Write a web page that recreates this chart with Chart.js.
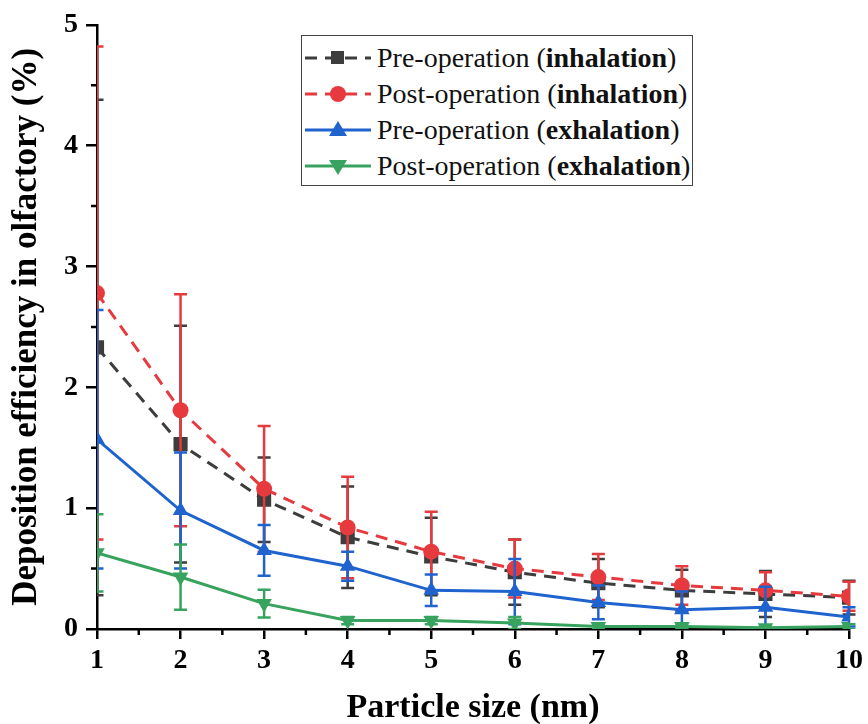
<!DOCTYPE html>
<html lang="en">
<head>
<meta charset="UTF-8" />
<title>Olfactory deposition</title>
<script src="https://cdn.jsdelivr.net/npm/chart.js"></script>
<style>
  body { margin: 0; background: #fff; }
  #wrap { position: relative; width: 868px; height: 724px; }
  #legend {
    position: absolute; left: 301px; top: 35px; width: 392px; height: 151px;
    border: 1px solid #444; background: #fff; box-sizing: border-box;
    font-family: 'Liberation Serif', 'Times New Roman', serif; font-size: 28px; color: #111;
    padding-top: 4px;
  }
  .row { display: flex; align-items: center; height: 36px; white-space: nowrap; }
  .row svg { margin-left: 3px; margin-right: 6px; }
</style>
</head>
<body>
<div id="wrap">
  <canvas id="chart" width="868" height="724"></canvas>
  <div id="legend"></div>
</div>
<script>
  const sizes = [1, 2, 3, 4, 5, 6, 7, 8, 9, 10];
  const yTicks = [0, 1, 2, 3, 4, 5];

  const preInh = [2.33, 1.53, 1.07, 0.76, 0.60, 0.47, 0.38, 0.32, 0.29, 0.26];
  const preInhErr = [2.05, 0.98, 0.35, 0.42, 0.32, 0.27, 0.20, 0.17, 0.19, 0.14];
  const postInh = [2.78, 1.81, 1.16, 0.84, 0.64, 0.50, 0.43, 0.36, 0.32, 0.27];
  const postInhErr = [2.04, 0.96, 0.52, 0.42, 0.33, 0.24, 0.19, 0.16, 0.15, 0.12];
  const preExh = [1.57, 0.98, 0.65, 0.52, 0.32, 0.31, 0.22, 0.16, 0.18, 0.10];
  const preExhErr = [1.07, 0.48, 0.21, 0.12, 0.13, 0.27, 0.14, 0.15, 0.17, 0.08];
  const postExh = [0.63, 0.43, 0.21, 0.07, 0.07, 0.05, 0.02, 0.02, 0.01, 0.02];
  const postExhErr = [0.32, 0.27, 0.115, 0.03, 0.03, 0.05, 0.02, 0.02, 0.02, 0.02];

  const GRAY = '#3d3d3d', RED = '#e63a3e', BLUE = '#1f63cf', GREEN = '#38a35e';
  const FONT = "'Liberation Serif', 'Times New Roman', serif";

  function pts(vals) { return sizes.map((x, i) => ({ x: x, y: vals[i] })); }

  const series = [
    { label: 'Pre-operation', mode: 'inhalation', vals: preInh, err: preInhErr, color: GRAY, style: 'rect', r: 10, rot: 0, dash: [12, 8], order: 4 },
    { label: 'Post-operation', mode: 'inhalation', vals: postInh, err: postInhErr, color: RED, style: 'circle', r: 8, rot: 0, dash: [12, 8], order: 3 },
    { label: 'Pre-operation', mode: 'exhalation', vals: preExh, err: preExhErr, color: BLUE, style: 'triangle', r: 9, rot: 0, dash: [], order: 2 },
    { label: 'Post-operation', mode: 'exhalation', vals: postExh, err: postExhErr, color: GREEN, style: 'triangle', r: 9, rot: 180, dash: [], order: 1 }
  ];

  // error bars, drawn just before each dataset's own line and markers
  const errorBars = {
    id: 'errorBars',
    beforeDatasetDraw(chart, args) {
      const ds = chart.data.datasets[args.index];
      if (!ds.errors) return;
      const { ctx, chartArea: a } = chart;
      const xs = chart.scales.x, ys = chart.scales.y;
      ctx.save();
      ctx.beginPath();
      ctx.rect(a.left, a.top - 10, a.right - a.left + 10, a.bottom - a.top + 10);
      ctx.clip();
      ctx.strokeStyle = ds.borderColor;
      ctx.lineWidth = 2.5;
      ds.data.forEach((p, i) => {
        const e = ds.errors[i];
        const px = xs.getPixelForValue(p.x);
        const top = ys.getPixelForValue(p.y + e);
        const bot = ys.getPixelForValue(p.y - e);
        ctx.beginPath();
        ctx.moveTo(px, top); ctx.lineTo(px, bot);
        ctx.moveTo(px - 6.5, top); ctx.lineTo(px + 6.5, top);
        ctx.moveTo(px - 6.5, bot); ctx.lineTo(px + 6.5, bot);
        ctx.stroke();
      });
      ctx.restore();
    }
  };

  // minor ticks at the half units
  const minorTicks = {
    id: 'minorTicks',
    afterDraw(chart) {
      const { ctx, chartArea: a } = chart;
      const xs = chart.scales.x, ys = chart.scales.y;
      ctx.save();
      ctx.strokeStyle = '#000';
      ctx.lineWidth = 2.5;
      ctx.beginPath();
      for (let v = 1.5; v < 10; v += 1) {
        const px = xs.getPixelForValue(v);
        ctx.moveTo(px, a.bottom); ctx.lineTo(px, a.bottom + 6);
      }
      for (let v = 0.5; v < 5; v += 1) {
        const py = ys.getPixelForValue(v);
        ctx.moveTo(a.left, py); ctx.lineTo(a.left - 6, py);
      }
      ctx.stroke();
      ctx.restore();
    }
  };

  const ctx = document.getElementById('chart').getContext('2d');
  new Chart(ctx, {
    type: 'line',
    data: {
      datasets: series.map(s => ({
        label: s.label + ' (' + s.mode + ')',
        data: pts(s.vals),
        errors: s.err,
        borderColor: s.color,
        backgroundColor: s.color,
        pointBackgroundColor: s.color,
        pointBorderColor: s.color,
        borderWidth: 3,
        borderDash: s.dash,
        pointStyle: s.style,
        pointRadius: s.r,
        pointRotation: s.rot,
        pointBorderWidth: 0,
        tension: 0,
        order: s.order
      }))
    },
    options: {
      responsive: false,
      animation: false,
      layout: { padding: { top: 20, right: 16, left: 0, bottom: 0 } },
      plugins: { legend: { display: false }, tooltip: { enabled: false } },
      scales: {
        x: {
          type: 'linear', min: 1, max: 10,
          afterBuildTicks: s => { s.ticks = sizes.map(v => ({ value: v })); },
          afterFit: s => { s.height = 95; },
          grid: { drawOnChartArea: false, color: '#000', tickLength: 10, lineWidth: 2.5 },
          border: { color: '#000', width: 2.5 },
          ticks: { color: '#000', padding: 5, font: { family: FONT, size: 28, weight: 'bold' } },
          title: { display: true, text: 'Particle size (nm)', color: '#000', padding: { top: 4, bottom: -5 },
                   font: { family: FONT, size: 34, weight: 'bold' } }
        },
        y: {
          type: 'linear', min: 0, max: 5,
          afterBuildTicks: s => { s.ticks = yTicks.map(v => ({ value: v })); },
          afterFit: s => { s.width = 97; },
          grid: { drawOnChartArea: false, color: '#000', tickLength: 11, lineWidth: 2.5 },
          border: { color: '#000', width: 2.5 },
          ticks: { color: '#000', padding: 8, font: { family: FONT, size: 28, weight: 'bold' } },
          title: { display: true, text: 'Deposition efficiency in olfactory (%)', color: '#000', padding: { top: 6 },
                   font: { family: FONT, size: 35, weight: 'bold' } }
        }
      }
    },
    plugins: [errorBars, minorTicks]
  });

  // legend with mixed regular / bold text
  function sample(s) {
    const dash = s.dash.length ? 'stroke-dasharray="12 8"' : '';
    let mark = '';
    if (s.style === 'rect') mark = '<rect x="26" y="8" width="13" height="13" fill="' + s.color + '"/>';
    else if (s.style === 'circle') mark = '<circle cx="33" cy="15" r="8" fill="' + s.color + '"/>';
    else if (s.rot === 0) mark = '<polygon points="33,6 42,21 24,21" fill="' + s.color + '"/>';
    else mark = '<polygon points="24,9 42,9 33,24" fill="' + s.color + '"/>';
    return '<svg width="66" height="30"><line x1="0" y1="15" x2="66" y2="15" stroke="' + s.color +
      '" stroke-width="3" ' + dash + '/>' + mark + '</svg>';
  }
  document.getElementById('legend').innerHTML = series.map(s =>
    '<div class="row">' + sample(s) + '<span>' + s.label + ' (<b>' + s.mode + '</b>)</span></div>'
  ).join('');
</script>
</body>
</html>
